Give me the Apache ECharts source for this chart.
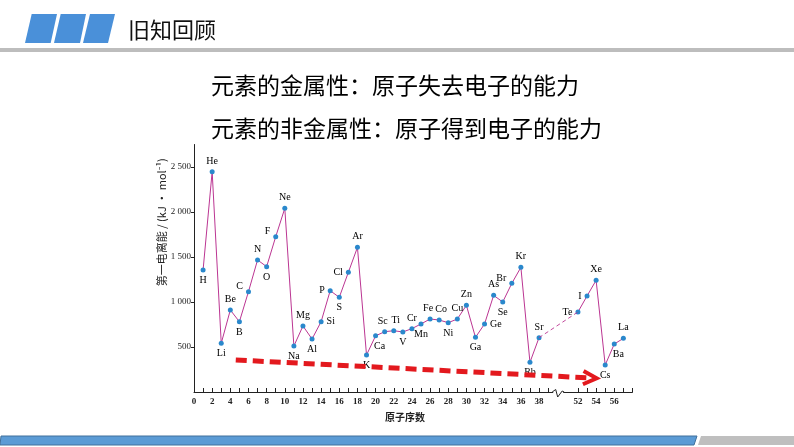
<!DOCTYPE html>
<html><head><meta charset="utf-8">
<script src="https://cdn.jsdelivr.net/npm/echarts@6/dist/echarts.min.js"></script>
<style>html,body{margin:0;padding:0;background:#fff}#c{width:794px;height:447px}</style>
</head><body><div id="c"></div>
<script>
// ---- data ----
const elementsA = ['H','He','Li','Be','B','C','N','O','F','Ne','Na','Mg','Al','Si','P','S','Cl','Ar','K','Ca',
  'Sc','Ti','V','Cr','Mn','Fe','Co','Ni','Cu','Zn','Ga','Ge','As','Se','Br','Kr','Rb','Sr'];
const atomicA = [1,2,3,4,5,6,7,8,9,10,11,12,13,14,15,16,17,18,19,20,21,22,23,24,25,26,27,28,29,30,31,32,33,34,35,36,37,38];
const energyA = [1356,2448,541,911,781,1115,1467,1393,1726,2041,511,733,589,781,1126,1052,1330,1607,411,624,
  670,681,667,704,756,811,800,770,811,963,607,756,1074,1000,1207,1385,330,604];
const elementsB = ['Te','I','Xe','Cs','Ba','La'];
const atomicB = [52,53,54,55,56,57];
const energyB = [889,1067,1241,300,533,596];
const yTickValues = [500,1000,1500,2000,2500];
const xTicksA = [1,2,3,4,5,6,7,8,9,10,11,12,13,14,15,16,17,18,19,20,21,22,23,24,25,26,27,28,29,30,31,32,33,34,35,36,37,38,39];
const xLabelsA = [0,2,4,6,8,10,12,14,16,18,20,22,24,26,28,30,32,34,36,38];
const xTicksB = [52,53,54,55,56,57,58];
const xLabelsB = [52,54,56];
const arrowFrom = [4.6, 356];   // grid A coords
const arrowTo = [54.06, 152];   // grid B coords
const titleText = '旧知回顾';
const line1 = '元素的金属性：原子失去电子的能力';
const line2 = '元素的非金属性：原子得到电子的能力';
const yName = '第一电离能 / (kJ · mol⁻¹)';
const xName = '原子序数';

// ---- styles ----
const labelPosA = ['bottom','top','bottom','top','bottom','topLeft','top','bottom','topLeft','top','bottom','top','bottom','right','left','bottom','left','top','bottom','bottomRight',
  'topL','topR','bottom','top','bottom','topL','topR','bottom','top','top','bottom','right','top','bottom','topLeft','top','bottom','top'];
const labelPosB = ['left','left','top','bottom','bottomRight','top'];
const LINE = '#bb3592', DOT = '#2a88cc', SERIF = '"Liberation Serif","Times New Roman",serif', CJK = '"Noto Sans CJK SC","Noto Sans",sans-serif';
function lab(pos){
  const m = {topLeft:{position:'left',offset:[0,-5]}, bottomRight:{position:'bottom',offset:[4,0]},
             topL:{position:'top',offset:[-2,0]}, topR:{position:'top',offset:[2,0]}};
  return m[pos] || {position: pos};
}
function mk(names, xs, ys, pos){
  return names.map((n,i)=>({name:n, value:[xs[i], ys[i]], label: lab(pos[i])}));
}
function yFmt(v){
  if (v >= 1000) return Math.floor(v/1000) + ' ' + String(v%1000).padStart(3,'0');
  return String(v);
}
const gTop = 144.5, gBottom = 55;
const common = {
  type:'line', symbol:'circle', symbolSize:5, showSymbol:true,
  itemStyle:{color:DOT}, lineStyle:{color:LINE, width:1},
  label:{show:true, formatter:'{b}', fontFamily:SERIF, fontSize:10, color:'#000', distance:3},
  emphasis:{disabled:true}, z:3
};
const option = {
  animation:false,
  grid:[
    {left:194, top:gTop, width:363.2, bottom:gBottom},
    {left:559.8, top:gTop, width:72.64, bottom:gBottom}
  ],
  xAxis:[
    {gridIndex:0, type:'value', min:0, max:40, interval:1,
     name:xName, nameLocation:'middle', nameGap:20,
     nameTextStyle:{fontFamily:CJK, fontSize:10, color:'#222', fontWeight:'bold', padding:[0,0,0,59]},
     axisLine:{show:true, lineStyle:{color:'#222', width:1}},
     axisTick:{show:true, inside:true, length:4, customValues:xTicksA, lineStyle:{color:'#222'}},
     axisLabel:{show:true, customValues:xLabelsA, margin:5, fontFamily:SERIF, fontSize:9, fontWeight:'bold', color:'#222'},
     splitLine:{show:false}},
    {gridIndex:1, type:'value', min:50, max:58, interval:1,
     axisLine:{show:true, lineStyle:{color:'#222', width:1}},
     axisTick:{show:true, inside:true, length:4, customValues:xTicksB, lineStyle:{color:'#222'}},
     axisLabel:{show:true, customValues:xLabelsB, margin:5, fontFamily:SERIF, fontSize:9, fontWeight:'bold', color:'#222'},
     splitLine:{show:false}}
  ],
  yAxis:[
    {gridIndex:0, type:'value', min:0, max:2750, interval:500,
     name:yName, nameLocation:'middle', nameGap:25, nameRotate:90,
     nameTextStyle:{fontFamily:CJK, fontSize:11, color:'#222', padding:[0,0,0,92]},
     axisLine:{show:true, lineStyle:{color:'#222', width:1}},
     axisTick:{show:true, inside:false, length:3, customValues:yTickValues, lineStyle:{color:'#222'}},
     axisLabel:{show:true, customValues:yTickValues, margin:3, formatter:yFmt, fontFamily:SERIF, fontSize:9, color:'#222'},
     splitLine:{show:false}},
    {gridIndex:1, type:'value', min:0, max:2750, interval:500, show:false, splitLine:{show:false}}
  ],
  series:[
    Object.assign({}, common, {xAxisIndex:0, yAxisIndex:0, data:mk(elementsA, atomicA, energyA, labelPosA)}),
    Object.assign({}, common, {xAxisIndex:1, yAxisIndex:1, data:mk(elementsB, atomicB, energyB, labelPosB)})
  ]
};
const chart = echarts.init(document.getElementById('c'), null, {renderer:'canvas'});
chart.setOption(option);

const pA = p => chart.convertToPixel({gridIndex:0}, p);
const pB = p => chart.convertToPixel({gridIndex:1}, p);
const sr = pA([atomicA[atomicA.length-1], energyA[energyA.length-1]]);
const te = pB([atomicB[0], energyB[0]]);
const a0 = pA(arrowFrom), a1 = pB(arrowTo);
const ang = Math.atan2(a1[1]-a0[1], a1[0]-a0[0]);
const hl = 15, ha = 0.46;
const h1 = [a1[0]-hl*Math.cos(ang-ha), a1[1]-hl*Math.sin(ang-ha)];
const h2 = [a1[0]-hl*Math.cos(ang+ha), a1[1]-hl*Math.sin(ang+ha)];
const shaftEnd = [a1[0]-4*Math.cos(ang), a1[1]-4*Math.sin(ang)];
const br = pA([40, 0]);
const RED = '#e3191e';

const graphic = [
  // header
  {type:'polygon', shape:{points:[[31.7,14],[57,14],[50.7,43],[25,43]]}, style:{fill:'#4a90d9'}},
  {type:'polygon', shape:{points:[[60.7,14],[86,14],[80,43],[54,43]]}, style:{fill:'#4a90d9'}},
  {type:'polygon', shape:{points:[[90,14],[115,14],[108,43],[83,43]]}, style:{fill:'#4a90d9'}},
  {type:'text', x:128, y:30, style:{text:titleText, fontFamily:CJK, fontSize:22, fill:'#111', verticalAlign:'middle'}},
  {type:'rect', shape:{x:0, y:48, width:794, height:4}, style:{fill:'#bdbdbd'}},
  {type:'text', x:211, y:85, style:{text:line1, fontFamily:CJK, fontSize:23, fill:'#000', verticalAlign:'middle'}},
  {type:'text', x:211, y:128, style:{text:line2, fontFamily:CJK, fontSize:23, fill:'#000', verticalAlign:'middle'}},
  // footer
  {type:'polygon', shape:{points:[[1,436],[697,436],[694,445],[0,445]]}, style:{fill:'#5b9bd5', stroke:'#41719c', lineWidth:1}},
  {type:'polygon', shape:{points:[[701,436],[794,436],[794,445],[698,445]]}, style:{fill:'#bfbfbf'}},
  // axis break
  {type:'rect', z:49, shape:{x:br[0]-4, y:br[1]-1.5, width:10, height:3}, style:{fill:'#fff'}},
  {type:'polyline', z:50, shape:{points:[[br[0]-5,br[1]],[br[0]-1.5,br[1]-2.5],[br[0]+0.5,br[1]+5],[br[0]+5,br[1]-1],[br[0]+7,br[1]]]}, style:{stroke:'#222', lineWidth:1, fill:null}},
  // Sr -> Te connector
  {type:'line', z:50, shape:{x1:sr[0], y1:sr[1], x2:te[0], y2:te[1]}, style:{stroke:LINE, lineWidth:0.9, lineDash:[4,3]}},
  // red arrow
  {type:'line', z:60, shape:{x1:a0[0], y1:a0[1], x2:shaftEnd[0], y2:shaftEnd[1]}, style:{stroke:RED, lineWidth:5, lineDash:[11,6]}},
  {type:'polyline', z:60, shape:{points:[h1, a1, h2]}, style:{stroke:RED, lineWidth:4, fill:null}}
];
chart.setOption({graphic: graphic});
</script>
</body></html>
